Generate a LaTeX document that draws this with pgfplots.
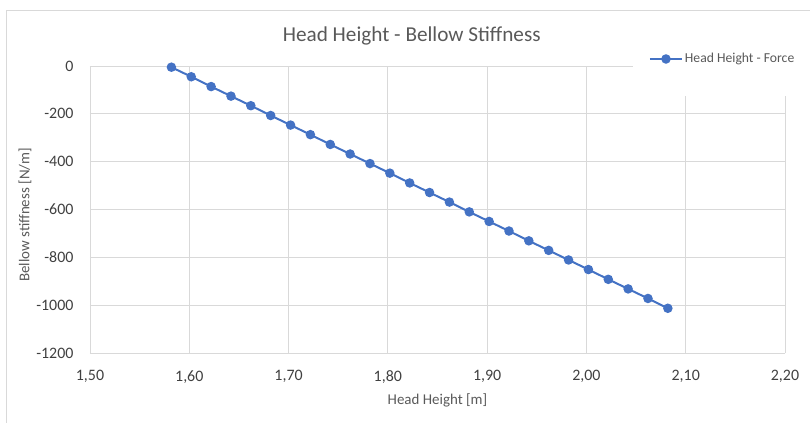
\documentclass[border=0pt]{standalone}
\usepackage{pgfplots}
\pgfplotsset{compat=1.18}
\usepackage{fontspec}
\setmainfont{Carlito}
\definecolor{txt}{HTML}{595959}
\definecolor{tck}{HTML}{404040}
\definecolor{grd}{HTML}{D9D9D9}
\definecolor{ser}{HTML}{4472C4}
\begin{document}
\begin{tikzpicture}
\path[use as bounding box] (-90bp,-70bp) rectangle (720bp,353bp);
\draw[grd, line width=0.8bp] (-84bp,-70bp) -- (-84bp,343bp) -- (725bp,343bp);
\begin{axis}[
  at={(0,0)}, anchor=south west,
  scale only axis, width=695bp, height=287bp,
  xmin=1.5, xmax=2.2, ymin=-1200, ymax=0,
  xtick={1.5,1.6,...,2.21}, ytick={-1200,-1000,...,0},
  grid=major, major grid style={grd, line width=0.8bp},
  major tick length=0pt,
  axis line style={draw=none},
  tick label style={tck, font=\fontsize{16}{18}\selectfont},
  xticklabel style={/pgf/number format/fixed, /pgf/number format/fixed zerofill, /pgf/number format/precision=2, /pgf/number format/use comma, /pgf/number format/assume math mode=true, yshift=-14bp},
  yticklabel style={/pgf/number format/fixed, /pgf/number format/precision=0, /pgf/number format/1000 sep={}, /pgf/number format/assume math mode=true, xshift=-13bp},
  title={Head Height - Bellow Stiffness},
  title style={at={(axis description cs:0.463,1.084)}, anchor=center, yshift=0pt, txt, font=\fontsize{21.3}{24}\selectfont},
  xlabel={Head Height [m]},
  xlabel style={at={(axis description cs:0.5,-0.1638)}, anchor=center, txt, font=\fontsize{15}{17}\selectfont},
  ylabel={Bellow stiffness [N/m]},
  ylabel style={at={(axis description cs:-0.0935,0.481)}, anchor=center, txt, font=\fontsize{15}{17}\selectfont},
  legend style={at={(axis description cs:0.781,1.0244)}, anchor=west, fill=white, draw=none,
    inner xsep=16bp, inner ysep=30bp, font=\fontsize{13.7}{15}\selectfont, text=txt},
  legend image code/.code={\draw[mark repeat=2,mark phase=2] plot coordinates {(0bp,0bp)(16bp,0bp)(32bp,0bp)};},
  clip=false,
]
\addplot[ser, line width=2bp, mark=*, mark size=3.7bp, mark options={fill=ser, draw=ser}] coordinates {
(1.582,-5) (1.602,-45) (1.622,-86) (1.642,-126) (1.662,-166) (1.682,-207)
(1.702,-247) (1.722,-287) (1.742,-328) (1.762,-368) (1.782,-408) (1.802,-448)
(1.822,-489) (1.842,-529) (1.862,-569) (1.882,-610) (1.902,-650) (1.922,-690)
(1.942,-731) (1.962,-771) (1.982,-811) (2.002,-851) (2.022,-892) (2.042,-932)
(2.062,-972) (2.082,-1013)
};
\addlegendentry{Head Height - Force}
\end{axis}
\end{tikzpicture}
\end{document}
